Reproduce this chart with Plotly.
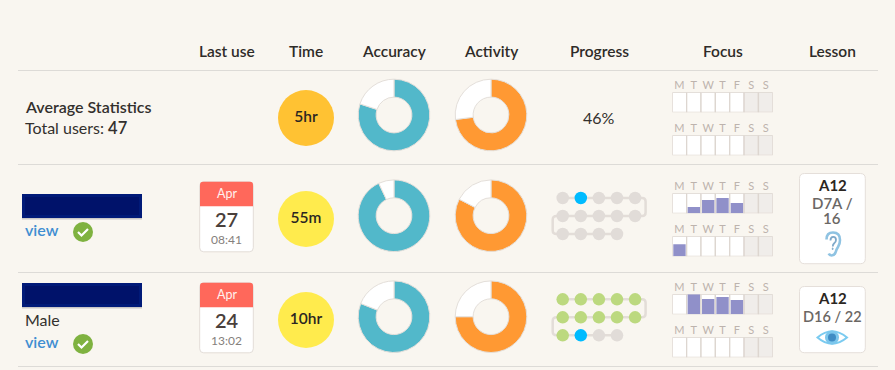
import plotly.graph_objects as go

# ---------- data ----------
headers = ["Last use", "Time", "Accuracy", "Activity", "Progress", "Focus", "Lesson"]
time_labels = ["5hr", "55m", "10hr"]
time_colors = ["#ffc233", "#ffeb4d", "#ffeb4d"]
accuracy = [80, 93, 81]
activity = [73, 82.6, 75]
date_month = ["Apr", "Apr"]
date_day = ["27", "24"]
date_time = ["08:41", "13:02"]
weekdays = ["M", "T", "W", "T", "F", "S", "S"]
focus_values = [
    [0, 0, 0, 0, 0, 0, 0],
    [0, 0, 0, 0, 0, 0, 0],
    [0, 0.32, 0.67, 0.77, 0.52, 0, 0],
    [0.6, 0, 0, 0, 0, 0, 0],
    [0, 1.0, 0.77, 0.87, 0.72, 0, 0],
    [0, 0, 0, 0, 0, 0, 0],
]
progress_total = [14, 14]
progress_done = [0, 11]      # steps shown green
progress_current = [1, 11]   # step shown blue
lesson_title = ["A12", "A12"]
lesson_lines = [["D7A /", "16"], ["D16 / 22"]]

# ---------- page geometry ----------
W, H = 895, 370
BG = "#f9f6f0"
FONT = "Lato"
INK = "#33302d"
col_x = dict(zip(headers, [226.5, 306, 394, 491, 599, 722.5, 832.3]))
row_y = [118, 219, 320]
donut_y = [115, 215.7, 316.7]
donut_r = 35.8
focus_top = [92.3, 135.3, 193.3, 236.3, 294.3, 337.3]
focus_x0, focus_x1 = 672.3, 772.8
focus_h = 20
prog_y0 = [198, 299.3]
prog_x0, prog_dx, prog_dy = 562.7, 18.1, 18


def dx(px):
    return px / W


def dy(px):
    return 1 - px / H


fig = go.Figure()
shapes, ann = [], []


def text(x, y, s, size=14, color=INK, weight=400, anchor="center"):
    ann.append(dict(x=x - (1.5 if anchor == "left" else 0), y=y - 1, xref="x", yref="y", text=s,
                    showarrow=False, xanchor=anchor, yanchor="middle", align=anchor, borderpad=0,
                    font=dict(family=FONT, size=size, color=color, weight=weight)))


def rrect(x0, y0, x1, y1, r):
    return (f"M{x0+r},{y0} L{x1-r},{y0} Q{x1},{y0} {x1},{y0+r} L{x1},{y1-r} Q{x1},{y1} {x1-r},{y1} "
            f"L{x0+r},{y1} Q{x0},{y1} {x0},{y1-r} L{x0},{y0+r} Q{x0},{y0} {x0+r},{y0} Z")


def path(p, fill="rgba(0,0,0,0)", line="rgba(0,0,0,0)", w=1, layer="below"):
    shapes.append(dict(type="path", path=p, xref="x", yref="y", fillcolor=fill, layer=layer,
                       line=dict(color=line, width=w)))


def rect(x0, y0, x1, y1, fill, layer="below"):
    shapes.append(dict(type="rect", x0=x0, y0=y0, x1=x1, y1=y1, xref="x", yref="y",
                       fillcolor=fill, line=dict(width=0), layer=layer))


# rules
for y in [70.5, 164.5, 272.5, 366.5]:
    shapes.append(dict(type="line", x0=18, x1=878, y0=y, y1=y, xref="x", yref="y",
                       line=dict(color="#dddbd7", width=1), layer="below"))

# headers
for h in headers:
    text(col_x[h], 51.7, h, size=15.5, weight=600, color="#2e2b28")

# left column
text(25.5, 107.3, "Average Statistics", size=16, weight=600, anchor="left")
text(25.5, 129, "Total users: <span style='font-weight:600;font-size:16.5px'>47</span>", size=16, anchor="left")
for y0 in [194, 283]:
    rect(22, y0 + 24, 142, y0 + 25.5, "#c9c6c6")
    rect(22, y0, 142, y0 + 24, "#011a78")
    rect(25, y0 + 3, 139, y0 + 21, "#00126a")
text(25.5, 320.7, "Male", size=16, anchor="left")
for yv, yc in [(230.7, 232), (342.5, 344)]:
    text(25.5, yv, "view", size=16, color="#3f8ed2", weight=600, anchor="left")
    shapes.append(dict(type="circle", x0=73, x1=93, y0=yc - 10, y1=yc + 10, xref="x", yref="y",
                       fillcolor="#7fb240", line=dict(width=0), layer="below"))
    path(f"M78,{yc} L81.5,{yc+3.5} L88,{yc-3}", line="#ffffff", w=2.2, layer="above")

# date cards
for i, y0 in enumerate([181.8, 282.8]):
    path(rrect(199.7, y0, 253.3, y0 + 70, 4), fill="#ffffff", line="#e3ddd8", w=1)
    path(f"M200,{y0+24.5} L200,{y0+3} Q200,{y0} 203,{y0} L250,{y0} Q253,{y0} 253,{y0+3} L253,{y0+24.5} Z",
         fill="#ff685b")
    text(226.5, y0 + 12.5, date_month[i], size=12.5, color="#fff1ee")
    text(226.5, y0 + 38.5, date_day[i], size=20, color="#4a403c", weight=600)
    text(226.5, y0 + 58.5, date_time[i], size=12, color="#85807c")

# time circles
fig.add_trace(go.Scatter(x=[col_x["Time"]] * 3, y=row_y, mode="markers+text", text=time_labels,
                         textposition="middle center", hoverinfo="skip", showlegend=False,
                         textfont=dict(family=FONT, size=15.5, color="#2b2622", weight=600),
                         marker=dict(size=56, color=time_colors, line=dict(width=0))))

# donuts
for name, vals, color in [("Accuracy", accuracy, "#52b8ca"), ("Activity", activity, "#ff9933")]:
    for v, cy in zip(vals, donut_y):
        cx = col_x[name]
        fig.add_trace(go.Pie(values=[v, 100 - v], sort=False, direction="clockwise", rotation=0,
                             hole=0.5, textinfo="none", hoverinfo="skip", showlegend=False,
                             marker=dict(colors=[color, "#ffffff"], line=dict(color="#e4dfda", width=1)),
                             domain=dict(x=[dx(cx - donut_r), dx(cx + donut_r)],
                                         y=[dy(cy + donut_r), dy(cy - donut_r)])))

text(col_x["Progress"], 118.3, "46%", size=16)

# progress tracks: the bends between rows
for i, y0 in enumerate(prog_y0):
    x4 = prog_x0 + 4 * prog_dx
    y1, y2 = y0 + prog_dy, y0 + 2 * prog_dy
    path(f"M{x4},{y0} L{x4+7},{y0} Q{x4+10.5},{y0} {x4+10.5},{y0+3.5} L{x4+10.5},{y1-3.5} Q{x4+10.5},{y1} {x4+7},{y1} L{x4},{y1}",
         line="#e3ddd8", w=2.5)
    path(f"M{prog_x0},{y1} L{prog_x0-6},{y1} Q{prog_x0-10},{y1} {prog_x0-10},{y1+3.5} L{prog_x0-10},{y2-3.5} Q{prog_x0-10},{y2} {prog_x0-6},{y2} L{prog_x0},{y2}",
         line="#e3ddd8", w=2.5)

for i, y0 in enumerate(prog_y0):
    n = progress_total[i]
    cols = [k % 5 for k in range(n)]
    rows = [k // 5 for k in range(n)]
    colors = ["#00bbff" if k == progress_current[i] else "#bcd97f" if k < progress_done[i] else "#e1dcd8"
              for k in range(n)]
    ax = f"{20 + i}"
    lx, ly = [], []
    for r in sorted(set(rows)):
        rc = [c for c, rr in zip(cols, rows) if rr == r]
        lx += [rc[0], rc[-1], None]
        ly += [r, r, None]
    fig.add_trace(go.Scatter(x=lx, y=ly, mode="lines", xaxis=f"x{ax}", yaxis=f"y{ax}", hoverinfo="skip",
                             showlegend=False, line=dict(color="#e3ddd8", width=2.5)))
    fig.add_trace(go.Scatter(x=cols, y=rows, mode="markers", xaxis=f"x{ax}", yaxis=f"y{ax}",
                             hoverinfo="skip", showlegend=False,
                             marker=dict(size=12.5, color=colors, line=dict(width=0))))
    fig.update_layout({
        f"xaxis{ax}": dict(domain=[dx(prog_x0 - prog_dx), dx(prog_x0 + 5 * prog_dx)], range=[-1, 5],
                           visible=False, fixedrange=True, anchor=f"y{ax}"),
        f"yaxis{ax}": dict(domain=[dy(y0 + 3 * prog_dy), dy(y0 - prog_dy)], range=[3, -1],
                           visible=False, fixedrange=True, anchor=f"x{ax}"),
    })

# focus week grids
for i, vals in enumerate(focus_values):
    ax = f"{30 + i}"
    top = focus_top[i]
    idx = list(range(7))
    fig.add_trace(go.Bar(x=idx, y=[1] * 7, width=1, xaxis=f"x{ax}", yaxis=f"y{ax}", hoverinfo="skip",
                         showlegend=False,
                         marker=dict(color=["#ffffff"] * 5 + ["#f0edea"] * 2,
                                     line=dict(color="#ddd6d0", width=1.3))))
    fig.add_trace(go.Bar(x=idx, y=vals, width=0.86, xaxis=f"x{ax}", yaxis=f"y{ax}", hoverinfo="skip",
                         showlegend=False, marker=dict(color="#9090c9", line=dict(width=0))))
    fig.update_layout({
        f"xaxis{ax}": dict(domain=[dx(focus_x0), dx(focus_x1)], range=[-0.5, 6.5], fixedrange=True,
                           side="top", anchor=f"y{ax}", tickmode="array", tickvals=idx, ticktext=weekdays,
                           showgrid=False, zeroline=False, showline=False, ticks="", ticklen=0,
                           tickfont=dict(family=FONT, size=11, color="#bdb3ad")),
        f"yaxis{ax}": dict(domain=[dy(top + focus_h), dy(top)], range=[0, 1], visible=False,
                           anchor=f"x{ax}", fixedrange=True),
    })

# lesson cards
for i, (y0, y1) in enumerate([(173.5, 263.7), (286.5, 352.7)]):
    path(rrect(799.5, y0, 865.3, y1, 5), fill="#ffffff", line="#e5dfda", w=1)
cx = col_x["Lesson"]
text(cx, 185.7, lesson_title[0], size=15, weight=700, color="#2b2622")
text(cx, 204, lesson_lines[0][0], size=15, weight=600, color="#6b6764")
text(cx, 218.5, lesson_lines[0][1], size=15, weight=600, color="#6b6764")
text(cx, 298.7, lesson_title[1], size=15, weight=700, color="#2b2622")
text(cx, 317.3, lesson_lines[1][0], size=14.5, weight=600, color="#6b6764")

# ear icon
path("M826.5,239.5 Q826.5,232.5 833,232.5 Q840,232.5 840,240 Q840,244 838,247 Q836,250 835.5,252.5 "
     "Q834.5,255.5 831.5,255.5 Q829.5,255.5 828.8,253.5", line="#8fc3e2", w=2.6, layer="above")
path("M830.5,240.5 Q830.5,236.8 833.2,236.8 Q836,236.8 836,240 Q836,242 834,243.5 Q832.8,244.5 832.8,246.5",
     line="#7fa9c9", w=1.8, layer="above")
path("M832.3,248 L833,248 L833,249.5 L832.3,249.5 Z", line="#7fa9c9", w=1, layer="above")

# eye icon
path("M817.5,337.5 Q832,325 847,337.5 Q832,350 817.5,337.5 Z", fill="#ffffff", line="#7bcbf0", w=2, layer="above")
shapes.append(dict(type="circle", x0=825, x1=839, y0=330.5, y1=344.5, xref="x", yref="y",
                   fillcolor="#7bc6ec", line=dict(width=0), layer="above"))
shapes.append(dict(type="circle", x0=828, x1=836, y0=333.5, y1=341.5, xref="x", yref="y",
                   fillcolor="#3f8cc4", line=dict(width=0), layer="above"))

fig.update_layout(
    width=W, height=H, autosize=False, margin=dict(l=0, r=0, t=0, b=0),
    paper_bgcolor=BG, plot_bgcolor="rgba(0,0,0,0)", showlegend=False, barmode="overlay",
    hovermode=False, dragmode=False,
    xaxis=dict(domain=[0, 1], range=[0, W], visible=False, fixedrange=True),
    yaxis=dict(domain=[0, 1], range=[H, 0], visible=False, fixedrange=True),
    shapes=shapes, annotations=ann,
    font=dict(family=FONT),
)
fig.write_html("out.html", config={"displayModeBar": False},
               post_script=f"document.body.style.margin='0';document.body.style.background='{BG}';"
                           "document.body.style.overflow='hidden';")
